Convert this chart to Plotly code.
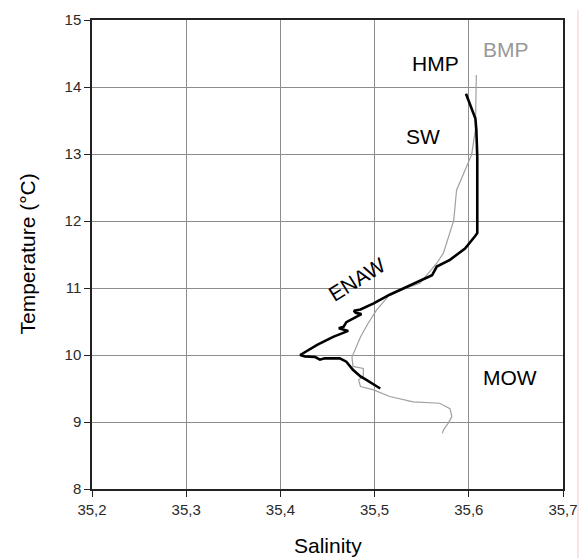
import plotly.graph_objects as go

# Temperature-salinity profiles
hmp_salinity = [35.597, 35.601, 35.607, 35.608, 35.609, 35.609, 35.609, 35.607, 35.596, 35.580,
                35.566, 35.561, 35.545, 35.534, 35.516, 35.499, 35.485, 35.478, 35.480, 35.486,
                35.476, 35.470, 35.467, 35.462, 35.472, 35.456, 35.439, 35.421, 35.426, 35.437,
                35.442, 35.447, 35.463, 35.470, 35.477, 35.485, 35.490, 35.506]
hmp_temperature = [13.90, 13.76, 13.53, 13.36, 12.96, 12.61, 11.82, 11.78, 11.59, 11.42,
                   11.32, 11.19, 11.09, 11.02, 10.90, 10.77, 10.68, 10.66, 10.63, 10.61,
                   10.53, 10.49, 10.42, 10.40, 10.36, 10.27, 10.15, 10.00, 9.98, 9.97,
                   9.93, 9.95, 9.95, 9.90, 9.78, 9.68, 9.64, 9.50]

bmp_salinity = [35.608, 35.607, 35.603, 35.587, 35.584, 35.577, 35.573, 35.566, 35.548, 35.534,
                35.516, 35.502, 35.493, 35.485, 35.476, 35.477, 35.488, 35.488, 35.483, 35.485,
                35.499, 35.516, 35.541, 35.569, 35.580, 35.582, 35.578, 35.573, 35.572]
bmp_temperature = [14.18, 13.36, 12.99, 12.46, 12.01, 11.72, 11.52, 11.37, 11.07, 11.00,
                   10.90, 10.67, 10.47, 10.27, 9.97, 9.83, 9.80, 9.68, 9.63, 9.53,
                   9.48, 9.38, 9.30, 9.28, 9.20, 9.08, 8.98, 8.88, 8.83]

x_ticks = [35.2, 35.3, 35.4, 35.5, 35.6, 35.7]
x_tick_labels = ["35,2", "35,3", "35,4", "35,5", "35,6", "35,7"]
y_ticks = [8, 9, 10, 11, 12, 13, 14, 15]

FONT = "Liberation Sans, Arial, sans-serif"
TICK_FONT = dict(family=FONT, size=15, color="#2a2a2a")

# Water mass labels: (text, salinity, temperature, colour, angle)
labels = [
    ("HMP", 35.565, 14.35, "#000000", 0),
    ("BMP", 35.639, 14.56, "#999999", 0),
    ("SW", 35.551, 13.26, "#000000", 0),
    ("ENAW", 35.481, 11.12, "#000000", -32),
    ("MOW", 35.644, 9.66, "#000000", 0),
]

fig = go.Figure()
fig.add_trace(go.Scatter(x=bmp_salinity, y=bmp_temperature, mode="lines",
                         line=dict(color="#a0a0a0", width=1.2), showlegend=False))
fig.add_trace(go.Scatter(x=hmp_salinity, y=hmp_temperature, mode="lines",
                         line=dict(color="#000000", width=2.6), showlegend=False))

for text, sx, ty, col, ang in labels:
    fig.add_annotation(x=sx, y=ty, text=text, showarrow=False, textangle=ang,
                       font=dict(family=FONT, size=21, color=col))

# thin pink page border on the right
fig.add_shape(type="line", xref="paper", yref="paper", x0=1.0318, x1=1.0318, y0=-0.2, y1=1.021,
              line=dict(color="#f6c4c4", width=1))

axis_style = dict(
    showline=True, linecolor="#222222", linewidth=1.5, mirror=True,
    showgrid=True, gridcolor="#8c8c8c", gridwidth=1,
    ticks="outside", ticklen=6, tickcolor="#222222", tickwidth=1.2,
    zeroline=False, automargin=False,
)

fig.update_layout(
    width=579, height=558,
    margin=dict(l=92, r=16, t=20, b=69),
    paper_bgcolor="white", plot_bgcolor="white",
    showlegend=False,
    font=dict(family=FONT, size=15, color="#2a2a2a"),
    xaxis=dict(range=[35.2, 35.7], tickmode="array", tickvals=x_ticks, ticktext=x_tick_labels,
               tickfont=TICK_FONT, **axis_style),
    yaxis=dict(range=[8, 15], tickmode="array", tickvals=y_ticks,
               ticktext=[str(v) for v in y_ticks], tickfont=TICK_FONT, **axis_style),
)

# axis titles
fig.add_annotation(xref="paper", yref="paper", x=0.5, y=-0.12, yanchor="middle",
                   text="Salinity", showarrow=False, font=dict(family=FONT, size=21, color="#000000"))
fig.add_annotation(xref="paper", yref="paper", x=-0.138, y=0.5, xanchor="center",
                   text="Temperature (°C)", textangle=-90, showarrow=False,
                   font=dict(family=FONT, size=21, color="#000000"))

fig.write_html("out.html")
